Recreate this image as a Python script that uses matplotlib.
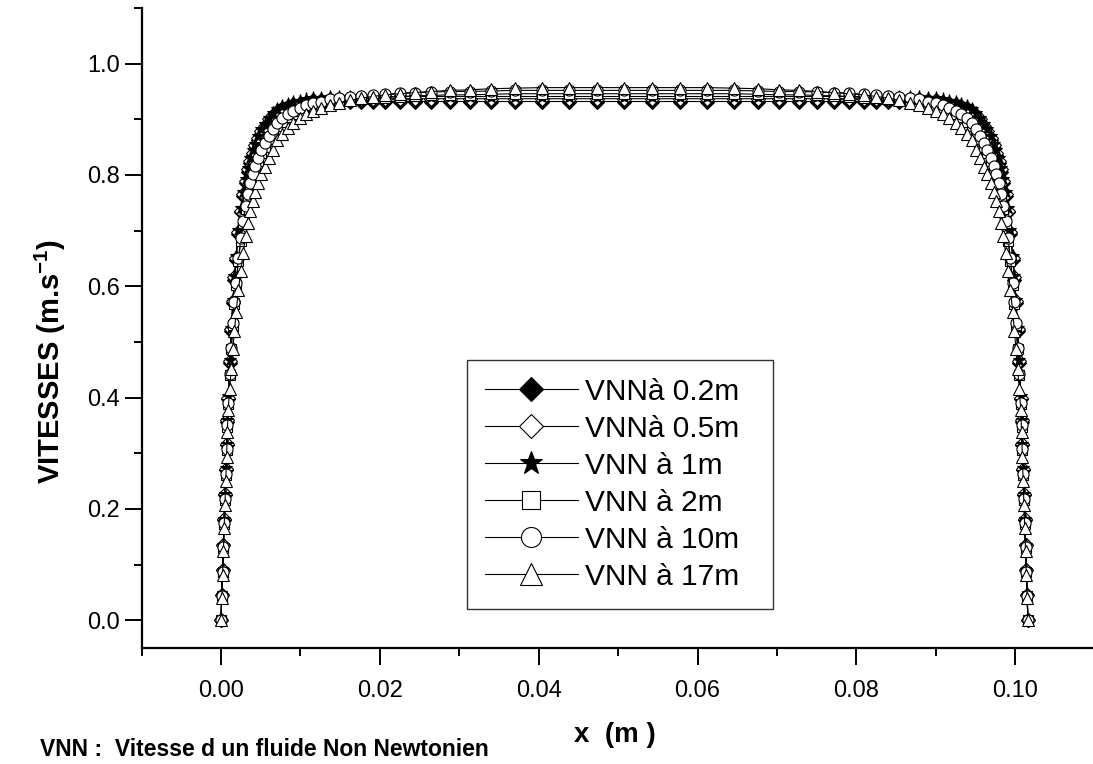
import matplotlib
matplotlib.use("Agg")
import matplotlib.pyplot as plt
from matplotlib.ticker import MultipleLocator, FormatStrFormatter

plt.rcParams['font.family'] = ['Liberation Sans', 'DejaVu Sans']
plt.rcParams['mathtext.fontset'] = 'custom'
plt.rcParams['mathtext.rm'] = 'Liberation Sans'
plt.rcParams['mathtext.bf'] = 'Liberation Sans:bold'

# position across the channel (m)
x_m = [
    0.0000, 0.0001, 0.0002, 0.0003, 0.0004, 0.0005, 0.0006, 0.0007, 0.0008, 0.0009,
    0.0011, 0.0013, 0.0015, 0.0017, 0.0019, 0.0022, 0.0025, 0.0028, 0.0031, 0.0034,
    0.0037, 0.0040, 0.0043, 0.0047, 0.0051, 0.0055, 0.0060, 0.0065, 0.0071, 0.0077,
    0.0084, 0.0091, 0.0099, 0.0107, 0.0116, 0.0126, 0.0137, 0.0149, 0.0162, 0.0176,
    0.0191, 0.0207, 0.0225, 0.0244, 0.0265, 0.0288, 0.0313, 0.0340, 0.0370, 0.0404,
    0.0438, 0.0473, 0.0508,
    0.0543, 0.0578, 0.0612, 0.0646, 0.0676, 0.0703, 0.0728, 0.0751, 0.0772, 0.0791,
    0.0809, 0.0825, 0.0840, 0.0854, 0.0867, 0.0879, 0.0890, 0.0900, 0.0909, 0.0917,
    0.0925, 0.0932, 0.0939, 0.0945, 0.0951, 0.0956, 0.0961, 0.0965, 0.0969, 0.0973,
    0.0976, 0.0979, 0.0982, 0.0985, 0.0988, 0.0991, 0.0994, 0.0997, 0.0999, 0.1001,
    0.1003, 0.1005, 0.1007, 0.1008, 0.1009, 0.1010, 0.1011, 0.1012, 0.1013, 0.1014,
    0.1015, 0.1016,
]

# vitesses (m/s) a differentes distances de l'entree
v_02 = [
    0.000, 0.045, 0.090, 0.135, 0.180, 0.225, 0.270, 0.314, 0.357, 0.398,
    0.462, 0.520, 0.570, 0.612, 0.648, 0.694, 0.733, 0.762, 0.785, 0.805,
    0.822, 0.836, 0.848, 0.862, 0.874, 0.884, 0.895, 0.903, 0.910, 0.915,
    0.919, 0.922, 0.925, 0.927, 0.929, 0.930, 0.931, 0.932, 0.932, 0.932,
    0.932, 0.932, 0.932, 0.932, 0.932, 0.932, 0.932, 0.932, 0.932, 0.932,
    0.932, 0.932, 0.932,
    0.932, 0.932, 0.932, 0.932, 0.932, 0.932, 0.932, 0.932, 0.932, 0.932,
    0.932, 0.932, 0.932, 0.932, 0.932, 0.931, 0.930, 0.929, 0.927, 0.925,
    0.922, 0.919, 0.915, 0.910, 0.903, 0.895, 0.884, 0.874, 0.862, 0.848,
    0.836, 0.822, 0.805, 0.785, 0.762, 0.733, 0.694, 0.648, 0.612, 0.570,
    0.520, 0.462, 0.398, 0.357, 0.314, 0.270, 0.225, 0.180, 0.135, 0.090,
    0.045, 0.000,
]
v_05 = [
    0.000, 0.045, 0.091, 0.136, 0.181, 0.226, 0.272, 0.316, 0.359, 0.400,
    0.465, 0.523, 0.573, 0.616, 0.651, 0.698, 0.736, 0.766, 0.789, 0.810,
    0.826, 0.840, 0.853, 0.867, 0.879, 0.888, 0.900, 0.908, 0.915, 0.920,
    0.924, 0.927, 0.930, 0.932, 0.934, 0.935, 0.936, 0.937, 0.937, 0.937,
    0.937, 0.937, 0.937, 0.937, 0.937, 0.937, 0.937, 0.937, 0.937, 0.937,
    0.937, 0.937, 0.937,
    0.937, 0.937, 0.937, 0.937, 0.937, 0.937, 0.937, 0.937, 0.937, 0.937,
    0.937, 0.937, 0.937, 0.937, 0.937, 0.936, 0.935, 0.934, 0.932, 0.930,
    0.927, 0.924, 0.920, 0.915, 0.908, 0.900, 0.888, 0.879, 0.867, 0.853,
    0.840, 0.826, 0.810, 0.789, 0.766, 0.736, 0.698, 0.651, 0.616, 0.573,
    0.523, 0.465, 0.400, 0.359, 0.316, 0.272, 0.226, 0.181, 0.136, 0.091,
    0.045, 0.000,
]
v_1 = [
    0.000, 0.045, 0.091, 0.136, 0.182, 0.227, 0.273, 0.317, 0.360, 0.402,
    0.467, 0.525, 0.576, 0.618, 0.654, 0.701, 0.740, 0.770, 0.792, 0.813,
    0.830, 0.844, 0.856, 0.870, 0.883, 0.892, 0.903, 0.912, 0.918, 0.924,
    0.928, 0.931, 0.933, 0.936, 0.938, 0.939, 0.940, 0.941, 0.941, 0.941,
    0.941, 0.941, 0.941, 0.941, 0.941, 0.941, 0.941, 0.941, 0.941, 0.941,
    0.941, 0.941, 0.941,
    0.941, 0.941, 0.941, 0.941, 0.941, 0.941, 0.941, 0.941, 0.941, 0.941,
    0.941, 0.941, 0.941, 0.941, 0.941, 0.940, 0.939, 0.938, 0.936, 0.933,
    0.931, 0.928, 0.924, 0.918, 0.912, 0.903, 0.892, 0.883, 0.870, 0.856,
    0.844, 0.830, 0.813, 0.792, 0.770, 0.740, 0.701, 0.654, 0.618, 0.576,
    0.525, 0.467, 0.402, 0.360, 0.317, 0.273, 0.227, 0.182, 0.136, 0.091,
    0.045, 0.000,
]
v_2 = [
    0.000, 0.043, 0.086, 0.130, 0.173, 0.216, 0.261, 0.305, 0.348, 0.389,
    0.440, 0.487, 0.530, 0.568, 0.602, 0.646, 0.682, 0.713, 0.739, 0.762,
    0.781, 0.797, 0.811, 0.826, 0.840, 0.851, 0.865, 0.876, 0.888, 0.896,
    0.904, 0.910, 0.915, 0.920, 0.924, 0.927, 0.930, 0.933, 0.935, 0.937,
    0.938, 0.939, 0.941, 0.942, 0.943, 0.944, 0.944, 0.945, 0.946, 0.946,
    0.946, 0.946, 0.946,
    0.946, 0.946, 0.946, 0.946, 0.945, 0.944, 0.944, 0.943, 0.942, 0.941,
    0.939, 0.938, 0.937, 0.935, 0.933, 0.930, 0.927, 0.924, 0.920, 0.915,
    0.910, 0.904, 0.896, 0.888, 0.876, 0.865, 0.851, 0.840, 0.826, 0.811,
    0.797, 0.781, 0.762, 0.739, 0.713, 0.682, 0.646, 0.602, 0.568, 0.530,
    0.487, 0.440, 0.389, 0.348, 0.305, 0.261, 0.216, 0.173, 0.130, 0.086,
    0.043, 0.000,
]
v_10 = [
    0.000, 0.043, 0.087, 0.131, 0.174, 0.218, 0.262, 0.307, 0.350, 0.391,
    0.443, 0.490, 0.534, 0.571, 0.606, 0.650, 0.686, 0.718, 0.744, 0.766,
    0.786, 0.802, 0.816, 0.831, 0.845, 0.857, 0.870, 0.882, 0.893, 0.902,
    0.910, 0.915, 0.921, 0.926, 0.930, 0.932, 0.936, 0.939, 0.941, 0.942,
    0.944, 0.945, 0.947, 0.948, 0.949, 0.950, 0.950, 0.951, 0.952, 0.952,
    0.952, 0.952, 0.952,
    0.952, 0.952, 0.952, 0.952, 0.951, 0.950, 0.950, 0.949, 0.948, 0.947,
    0.945, 0.944, 0.942, 0.941, 0.939, 0.936, 0.932, 0.930, 0.926, 0.921,
    0.915, 0.910, 0.902, 0.893, 0.882, 0.870, 0.857, 0.845, 0.831, 0.816,
    0.802, 0.786, 0.766, 0.744, 0.718, 0.686, 0.650, 0.606, 0.571, 0.534,
    0.490, 0.443, 0.391, 0.350, 0.307, 0.262, 0.218, 0.174, 0.131, 0.087,
    0.043, 0.000,
]
v_17 = [
    0.000, 0.040, 0.082, 0.124, 0.166, 0.207, 0.250, 0.294, 0.338, 0.378,
    0.416, 0.452, 0.487, 0.520, 0.553, 0.593, 0.628, 0.660, 0.690, 0.714,
    0.736, 0.754, 0.769, 0.786, 0.801, 0.815, 0.831, 0.845, 0.862, 0.874,
    0.885, 0.894, 0.902, 0.909, 0.915, 0.920, 0.925, 0.930, 0.934, 0.938,
    0.941, 0.944, 0.946, 0.948, 0.950, 0.952, 0.953, 0.955, 0.956, 0.957,
    0.957, 0.957, 0.957,
    0.957, 0.957, 0.957, 0.956, 0.955, 0.953, 0.952, 0.950, 0.948, 0.946,
    0.944, 0.941, 0.938, 0.934, 0.930, 0.925, 0.920, 0.915, 0.909, 0.902,
    0.894, 0.885, 0.874, 0.862, 0.845, 0.831, 0.815, 0.801, 0.786, 0.769,
    0.754, 0.736, 0.714, 0.690, 0.660, 0.628, 0.593, 0.553, 0.520, 0.487,
    0.452, 0.416, 0.378, 0.338, 0.294, 0.250, 0.207, 0.166, 0.124, 0.082,
    0.040, 0.000,
]

labels = ["VNNà 0.2m", "VNNà 0.5m", "VNN à 1m", "VNN à 2m", "VNN à 10m", "VNN à 17m"]

# marqueur, remplissage, taille
styles = [
    ('D', 'black', 7.0),
    ('D', 'white', 7.0),
    ('*', 'black', 9.5),
    ('s', 'white', 7.0),
    ('o', 'white', 8.0),
    ('^', 'white', 9.0),
]

fig = plt.figure(figsize=(10.93, 7.64), dpi=100)
ax = fig.add_axes([0.1295, 0.1518, 0.872, 0.8377])

for v, lab, (mk, fc, ms) in zip([v_02, v_05, v_1, v_2, v_10, v_17], labels, styles):
    ax.plot(x_m, v, color='black', lw=0.8, marker=mk, ms=ms, mfc=fc,
            mec='black', mew=0.8, label=lab)

ax.set_xlim(-0.01, 0.11)
ax.set_ylim(-0.05, 1.10)

ax.spines['top'].set_visible(False)
ax.spines['right'].set_visible(False)
ax.spines['left'].set_linewidth(1.6)
ax.spines['bottom'].set_linewidth(1.6)

ax.xaxis.set_major_locator(MultipleLocator(0.02))
ax.xaxis.set_minor_locator(MultipleLocator(0.01))
ax.yaxis.set_major_locator(MultipleLocator(0.2))
ax.yaxis.set_minor_locator(MultipleLocator(0.1))
ax.xaxis.set_major_formatter(FormatStrFormatter('%.2f'))
ax.yaxis.set_major_formatter(FormatStrFormatter('%.1f'))

ax.tick_params(which='major', direction='out', length=12.5, width=1.4, labelsize=17)
ax.tick_params(which='minor', direction='out', length=6, width=1.4)
ax.tick_params(axis='x', which='major', pad=10.5)
ax.tick_params(axis='y', which='major', pad=3)

ax.set_xlabel('x  (m )', fontsize=20, fontweight='bold')
ax.xaxis.set_label_coords(0.497, -0.116)
ax.set_ylabel(r'VITESSES (m.s$^{\mathbf{-1}}$)', fontsize=21, fontweight='bold')
ax.yaxis.set_label_coords(-0.077, 0.447)

leg = ax.legend(loc='upper left', bbox_to_anchor=(0.3416, 0.067, 0.3211, 0.383),
                mode='expand', borderaxespad=0,
                fontsize=21.5, markerscale=1.8, handlelength=3.1,
                handletextpad=0.25, labelspacing=0.3, borderpad=0.6,
                fancybox=False, frameon=True, framealpha=1)
leg.get_frame().set_edgecolor('#333333')
leg.get_frame().set_linewidth(1.0)

fig.text(0.037, 0.010, 'VNN :  Vitesse d un fluide Non Newtonien',
         family=['Liberation Sans Narrow', 'Liberation Sans'],
         fontsize=16.5, fontweight='bold')

fig.savefig('out.png', dpi=100)
